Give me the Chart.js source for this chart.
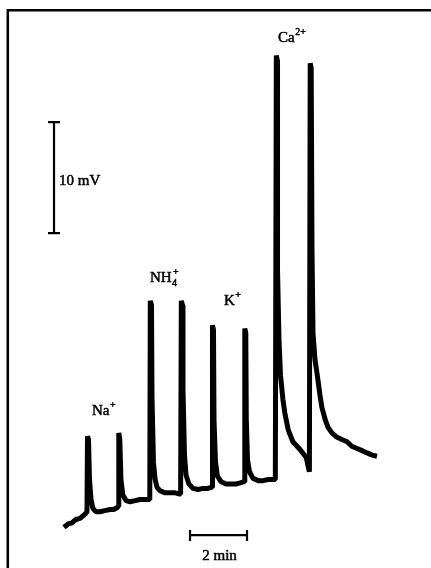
<!DOCTYPE html>
<html>
<head>
<meta charset="utf-8">
<script src="https://cdn.jsdelivr.net/npm/chart.js@4/dist/chart.umd.min.js"></script>
<style>
  html, body { margin: 0; padding: 0; background: #fff; }
  #wrap { width: 431px; height: 568px; }
</style>
</head>
<body>
<div id="wrap"><canvas id="c" width="431" height="568"></canvas></div>
<script>
const timeSec = [
  2, 11, 19, 27, 36, 44, 49,
  50.5, 51.6, 53.7, 55.8, 59, 63, 69, 78, 88, 99, 107, 115,
  116, 117.5, 119.6, 122, 126, 133, 141, 152, 162, 173, 181,
  182.7, 183.8, 186.3, 187.4, 190.5, 194, 198, 204, 215, 225, 236, 245.9,
  247.6, 249.1, 251.6, 252.6, 255.8, 259, 265, 274, 284, 295, 305, 312,
  313.7, 314.7, 316.8, 317.9, 321, 325, 333, 343, 354, 364, 373, 380,
  381.5, 382.7, 384.8, 385.9, 388.4, 392.6, 400, 411, 421, 432, 440, 447,
  448.4, 449.1, 451, 451.6, 454.7, 457.9, 463, 467, 474, 484, 499, 512, 517, 518.7,
  520.4, 522.5, 524.2, 526.3, 530.5, 535, 541, 545, 552, 558, 566, 577, 587, 598, 608, 619, 630, 640, 651, 661
];
const potentialMv = [
  -0.2, 0.1, 0.2, 0.5, 0.6, 0.9, 1.1,
  1.2, 8.0, 7.7, 4.1, 2.3, 1.5, 1.2, 1.2, 1.3, 1.4, 1.4, 1.6,
  1.7, 8.3, 7.7, 4.1, 2.7, 2.2, 2.1, 2.2, 2.3, 2.3, 2.3,
  2.3, 20.2, 19.8, 11.5, 5.6, 4.1, 3.4, 3.1, 2.9, 2.9, 2.9, 2.8,
  2.8, 20.2, 19.8, 12.2, 6.3, 4.5, 3.7, 3.3, 3.2, 3.3, 3.3, 3.4,
  3.4, 18.0, 17.6, 9.5, 5.7, 4.4, 3.9, 3.7, 3.7, 3.7, 3.8, 3.9,
  3.9, 17.7, 17.3, 9.5, 5.9, 4.8, 4.2, 4.0, 4.0, 4.1, 4.1, 4.1,
  4.1, 42.3, 41.9, 23.0, 16.7, 13.5, 11.3, 10.1, 8.6, 7.5, 6.8, 6.1, 5.1, 4.8,
  41.6, 41.2, 24.8, 17.3, 14.9, 13.6, 11.7, 10.6, 9.5, 8.8, 8.3, 7.9, 7.7, 7.5, 7.1, 6.9, 6.7, 6.5, 6.3, 6.2
];

// Ion labels and where they sit (s, mV)
const ionNames = ["Na", "NH", "K", "Ca"];
const ionSub   = ["", "4", "", ""];
const ionSup   = ["+", "+", "+", "2+"];
const ionTime  = [61, 183, 339, 452.6];
const ionMv    = [9.9, 21.9, 19.8, 43.5];

// Calibration bars
const voltBar = { t: -18.9, from: 26.3, to: 36.3, label: "10 mV" };
const timeBar = { v: -0.9, from: 267.4, to: 387.4, label: "2 min" };

const points = timeSec.map((t, i) => ({ x: t, y: potentialMv[i] }));

const FONT = "'Liberation Serif', 'Times New Roman', serif";

function inkText(ctx, s, x, y) {
  ctx.fillText(s, x, y);
  ctx.strokeText(s, x, y);
}

const decor = {
  id: 'decor',
  afterDatasetsDraw(chart) {
    const ctx = chart.ctx;
    const xs = chart.scales.x, ys = chart.scales.y;
    ctx.save();
    // frame
    ctx.strokeStyle = '#000';
    ctx.lineWidth = 2.5;
    ctx.beginPath();
    ctx.moveTo(7.8, 568);
    ctx.lineTo(7.8, 10.3);
    ctx.lineTo(431, 10.3);
    ctx.stroke();

    // vertical calibration bar
    const vx = xs.getPixelForValue(voltBar.t);
    const vy1 = ys.getPixelForValue(voltBar.to);
    const vy2 = ys.getPixelForValue(voltBar.from);
    ctx.lineWidth = 2.2;
    ctx.beginPath();
    ctx.moveTo(vx, vy1); ctx.lineTo(vx, vy2);
    ctx.moveTo(vx - 6, vy1); ctx.lineTo(vx + 6, vy1);
    ctx.moveTo(vx - 6, vy2); ctx.lineTo(vx + 6, vy2);
    ctx.stroke();

    // horizontal calibration bar
    const hy = ys.getPixelForValue(timeBar.v);
    const hx1 = xs.getPixelForValue(timeBar.from);
    const hx2 = xs.getPixelForValue(timeBar.to);
    ctx.beginPath();
    ctx.moveTo(hx1, hy); ctx.lineTo(hx2, hy);
    ctx.moveTo(hx1, hy - 5); ctx.lineTo(hx1, hy + 6);
    ctx.moveTo(hx2, hy - 5); ctx.lineTo(hx2, hy + 6);
    ctx.stroke();

    ctx.fillStyle = '#000';
    ctx.lineWidth = 0.5;
    ctx.textBaseline = 'alphabetic';
    ctx.font = '15px ' + FONT;
    ctx.textAlign = 'left';
    inkText(ctx, voltBar.label, vx + 5, ys.getPixelForValue(30.6));
    ctx.textAlign = 'center';
    inkText(ctx, timeBar.label, (hx1 + hx2) / 2 + 1, hy + 25);

    // ion labels
    ctx.textAlign = 'left';
    ionNames.forEach((n, i) => {
      let x = xs.getPixelForValue(ionTime[i]);
      const y = ys.getPixelForValue(ionMv[i]);
      ctx.font = '15px ' + FONT;
      inkText(ctx, n, x, y);
      x += ctx.measureText(n).width + 0.5;
      ctx.font = '10px ' + FONT;
      if (ionSub[i]) {
        inkText(ctx, ionSub[i], x, y + 4);
      }
      inkText(ctx, ionSup[i], x + (ionSub[i] ? 1 : 0), y - 7);
    });
    ctx.restore();
  }
};

new Chart(document.getElementById('c'), {
  type: 'scatter',
  data: {
    datasets: [{
      data: points,
      showLine: true,
      borderColor: '#000',
      backgroundColor: '#000',
      borderWidth: 5,
      borderJoinStyle: 'bevel',
      pointRadius: 0,
      tension: 0
    }]
  },
  options: {
    responsive: false,
    animation: false,
    layout: { padding: 0 },
    plugins: { legend: { display: false }, tooltip: { enabled: false } },
    scales: {
      x: { type: 'linear', min: -132.6, max: 774.7, display: false },
      y: { type: 'linear', min: -3.87, max: 47.3, display: false }
    }
  },
  plugins: [decor]
});
</script>
</body>
</html>
